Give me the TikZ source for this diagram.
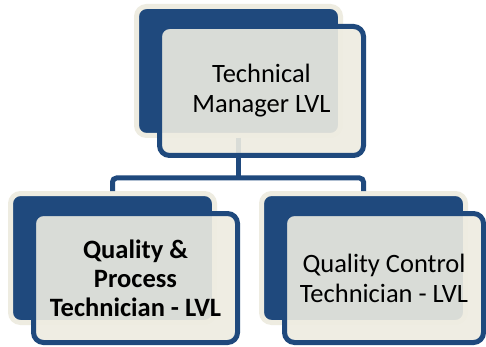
\documentclass[tikz,border=0pt]{standalone}
\usepackage{fontspec}
\setmainfont{Carlito}
\definecolor{dkblue}{RGB}{31,73,125}
\definecolor{cream}{RGB}{238,236,225}
\begin{document}
\begin{tikzpicture}[x=1pt,y=-1pt,
  backbox/.style={rectangle, draw=cream, fill=dkblue, line width=5pt, rounded corners=10pt,
    minimum width=204pt, minimum height=129pt, inner sep=0pt},
  frontbox/.style={rectangle, draw=dkblue, fill=cream, fill opacity=0.9, draw opacity=1, text opacity=1,
    line width=5pt, rounded corners=10pt, minimum width=204pt, minimum height=129pt, inner sep=0pt,
    align=center, text=black, font=\fontsize{26.5}{30}\selectfont},
  conn/.style={draw=dkblue, line width=5pt, rounded corners=4pt}]
\useasboundingbox (0,0) rectangle (486,347);
\fill[white] (0,0) rectangle (486,347);
% back boxes
\node[backbox] (tb) at (238.5,71) {};
\node[backbox] (lb) at (112.5,258) {};
\node[backbox] (rb) at (363.5,258) {};
% connectors
\draw[conn] (tb.south) -- ++(0,40) coordinate (hub);
\draw[conn] (lb.north) |- (hub) -| (rb.north);
% front boxes
\node[frontbox] (tf) at (261.5,91) {Technical\\Manager LVL};
\node[frontbox, font=\fontsize{26.5}{29}\selectfont\bfseries] (lf) at (135.5,278) {Quality \&\\Process\\Technician - LVL};
\node[frontbox, minimum width=199pt] (rf) at (384,278) {Quality Control\\Technician - LVL};
\end{tikzpicture}
\end{document}
